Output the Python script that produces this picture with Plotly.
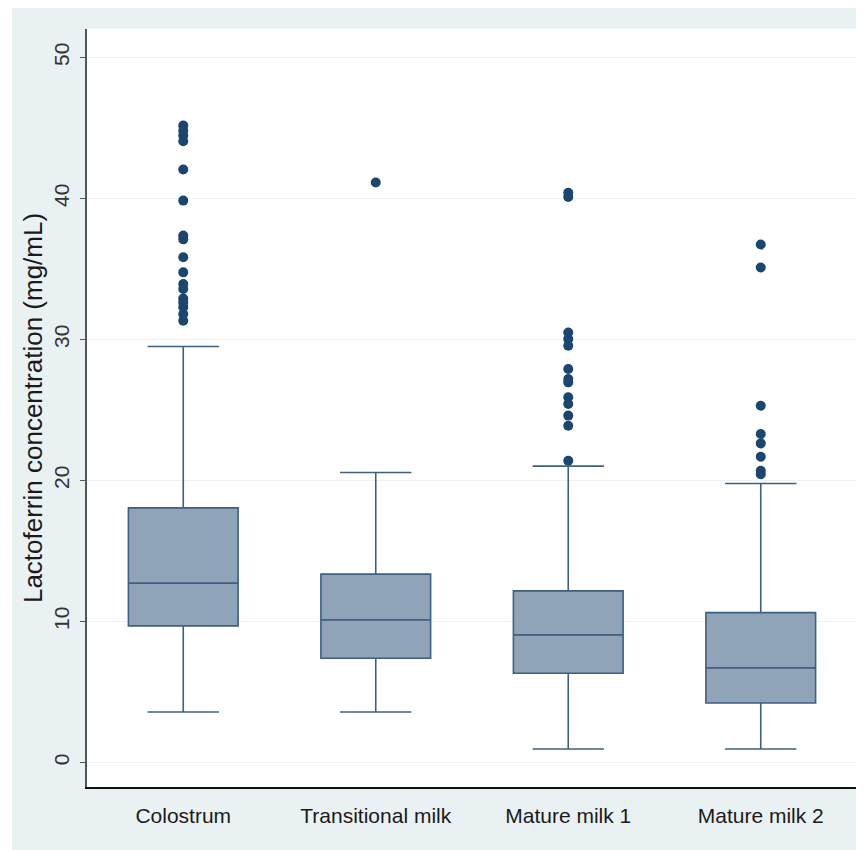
import plotly.graph_objects as go

categories = ["Colostrum", "Transitional milk", "Mature milk 1", "Mature milk 2"]
q1 = [9.69, 7.39, 6.33, 4.22]
median = [12.72, 10.11, 9.05, 6.71]
q3 = [18.06, 13.36, 12.17, 10.63]
lower_whisker = [3.58, 3.58, 0.96, 0.96]
upper_whisker = [29.5, 20.57, 21.02, 19.79]

outliers_colostrum = [45.18, 44.8, 44.46, 44.06, 42.05, 39.85, 37.37, 37.1, 35.83,
                      34.76, 33.94, 33.58, 32.9, 32.63, 32.28, 31.81, 31.33]
outliers_transitional = [41.13]
outliers_mature1 = [40.4, 40.1, 30.5, 30.03, 29.56, 27.9, 27.2, 26.96, 25.9, 25.42,
                    24.6, 23.88, 21.4]
outliers_mature2 = [36.73, 35.1, 25.3, 23.29, 22.63, 21.68, 20.69, 20.45]

y_ticks = [0, 10, 20, 30, 40, 50]
y_title = "Lactoferrin concentration (mg/mL)"

BG = "#eaf1f3"
BOX_LINE = "#3f5f80"
BOX_FILL = "#8fa4b8"
DOT = "#1b4670"

fig = go.Figure()
fig.add_trace(go.Box(
    x=categories, q1=q1, median=median, q3=q3,
    lowerfence=lower_whisker, upperfence=upper_whisker,
    fillcolor=BOX_FILL, line=dict(color=BOX_LINE, width=1.6),
    width=0.57, whiskerwidth=0.65, boxpoints=False, showlegend=False,
    hoverinfo="skip",
))

out_x, out_y = [], []
for cat, vals in zip(categories, [outliers_colostrum, outliers_transitional,
                                  outliers_mature1, outliers_mature2]):
    out_x += [cat] * len(vals)
    out_y += vals
fig.add_trace(go.Scatter(
    x=out_x, y=out_y, mode="markers",
    marker=dict(color=DOT, size=10, symbol="circle"),
    showlegend=False, hoverinfo="skip",
))

# page has an 8px body margin; figure is offset by it
W, H = 856, 842
L, R, T, B = 79, 7, 21, 63
pw, ph = W - L - R, H - T - B

def px_x(p):
    return (p - L) / pw

def px_y(p):
    return (H - B - p) / ph

fig.update_layout(
    width=W, height=H,
    margin=dict(l=L, r=R, t=T, b=B),
    paper_bgcolor=BG, plot_bgcolor="white",
    font=dict(family="Liberation Sans, Arial, sans-serif", color="#222222"),
    shapes=[
        dict(type="rect", xref="paper", yref="paper",
             x0=px_x(0), x1=px_x(4), y0=px_y(H), y1=px_y(0),
             fillcolor="white", line=dict(width=0), layer="below"),
    ],
)

fig.update_xaxes(
    type="category", categoryorder="array", categoryarray=categories,
    range=[-0.5, 3.5], showgrid=False, zeroline=False,
    showline=True, linecolor="#111111", linewidth=1.5,
    ticks="", ticklabelstandoff=9,
    tickfont=dict(family="Liberation Sans Narrow, Arial Narrow, Liberation Sans, sans-serif",
                  size=21, color="#1a1a1a"),
)
fig.update_yaxes(
    range=[-1.74, 52.02], tickvals=y_ticks, ticktext=[str(v) for v in y_ticks],
    tickangle=-90, ticks="outside", ticklen=5, tickcolor="#555555",
    tickfont=dict(size=21, color="#333333"), ticklabelstandoff=3,
    showgrid=True, gridcolor="#edf3f5", gridwidth=1, zeroline=False,
    showline=True, linecolor="#555555", linewidth=1.5,
    title=dict(text=y_title, font=dict(size=26, color="#1a1a1a"), standoff=0),
)

fig.write_html("out.html")
